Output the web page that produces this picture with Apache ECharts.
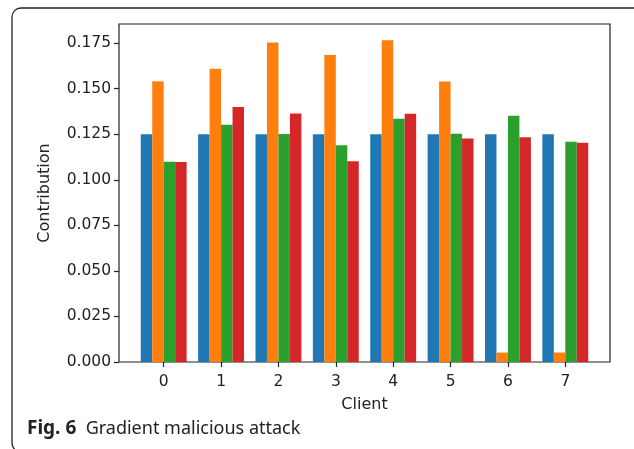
<!DOCTYPE html>
<html>
<head>
<meta charset="utf-8">
<script src="https://cdn.jsdelivr.net/npm/echarts@6/dist/echarts.min.js"></script>
<style>
  html, body { margin: 0; padding: 0; background: #fff; }
  #chart { width: 634px; height: 449px; }
</style>
</head>
<body>
<div id="chart"></div>
<script>
// client ids along the x axis
const clients = ['0', '1', '2', '3', '4', '5', '6', '7']
// four contribution series per client (matplotlib default colour cycle)
const seriesA = [0.125, 0.125, 0.125, 0.125, 0.125, 0.125, 0.125, 0.125]
const seriesB = [0.1541, 0.1609, 0.1754, 0.1685, 0.1766, 0.1539, 0.0052, 0.0052]
const seriesC = [0.1099, 0.1302, 0.1251, 0.1190, 0.1335, 0.1253, 0.1352, 0.1209]
const seriesD = [0.1098, 0.1399, 0.1364, 0.1102, 0.1363, 0.1227, 0.1234, 0.1203]
const yTicks = [0, 0.025, 0.05, 0.075, 0.1, 0.125, 0.15, 0.175]
const colors = ['#1f77b4', '#ff7f0e', '#2ca02c', '#d62728']

const chart = echarts.init(document.getElementById('chart'), null, { renderer: 'canvas' })

const tickFont = { color: '#222', fontSize: 15.5, fontFamily: 'DejaVu Sans' }
const yMax = 0.1855

const mkBar = (data, i) => ({
  type: 'bar',
  xAxisIndex: 0,
  yAxisIndex: 0,
  data: data,
  barGap: '0%',
  barCategoryGap: '20%',
  itemStyle: { color: colors[i] },
  silent: true,
  z: 2
})

const option = {
  animation: false,
  backgroundColor: '#fff',
  // grid 0: bars (inset so one category = one matplotlib unit)
  // grid 1: the axes frame with margins
  grid: [
    { left: 135, right: 40, top: 24, bottom: 87 },
    { left: 119, right: 24, top: 24, bottom: 87, show: true, borderColor: '#222', borderWidth: 1.2, backgroundColor: 'transparent' }
  ],
  xAxis: [
    {
      gridIndex: 0,
      type: 'category',
      data: clients,
      position: 'bottom',
      axisLine: { show: false },
      axisTick: { show: true, alignWithLabel: true, length: 5, inside: false, lineStyle: { color: '#222', width: 1.2 } },
      axisLabel: Object.assign({ margin: 12 }, tickFont),
      name: 'Client',
      nameLocation: 'middle',
      nameGap: 35,
      nameTextStyle: { color: '#222', fontSize: 16, fontFamily: 'DejaVu Sans' }
    },
    {
      gridIndex: 1,
      type: 'value',
      min: 0, max: 1,
      axisLine: { show: false },
      axisTick: { show: false },
      axisLabel: { show: false },
      splitLine: { show: false }
    }
  ],
  yAxis: [
    {
      gridIndex: 0,
      type: 'value',
      min: 0, max: yMax,
      axisLine: { show: false },
      axisTick: { show: false },
      axisLabel: { show: false },
      splitLine: { show: false }
    },
    {
      gridIndex: 1,
      type: 'value',
      min: 0, max: yMax,
      axisLine: { show: false },
      axisTick: { show: true, length: 5, lineStyle: { color: '#222', width: 1.2 }, customValues: yTicks },
      axisLabel: Object.assign({ margin: 8, formatter: v => v.toFixed(3), customValues: yTicks }, tickFont),
      splitLine: { show: false },
      name: 'Contribution',
      nameLocation: 'middle',
      nameGap: 66,
      nameRotate: 90,
      nameTextStyle: { color: '#222', fontSize: 16, fontFamily: 'DejaVu Sans' }
    }
  ],
  graphic: [
    {
      type: 'rect',
      shape: { x: 12, y: 8, width: 640, height: 444, r: 9 },
      style: { fill: 'none', stroke: '#222', lineWidth: 1.3 },
      silent: true
    },
    {
      type: 'text',
      left: 27,
      top: 419,
      style: {
        text: '{b|Fig. 6}  Gradient malicious attack',
        fill: '#222',
        font: '18px "Noto Sans"',
        rich: {
          b: { fontWeight: 'bold', fontSize: 19, fontFamily: 'Noto Sans', fill: '#222' }
        }
      }
    }
  ],
  series: [seriesA, seriesB, seriesC, seriesD].map(mkBar)
}

chart.setOption(option)
</script>
</body>
</html>
